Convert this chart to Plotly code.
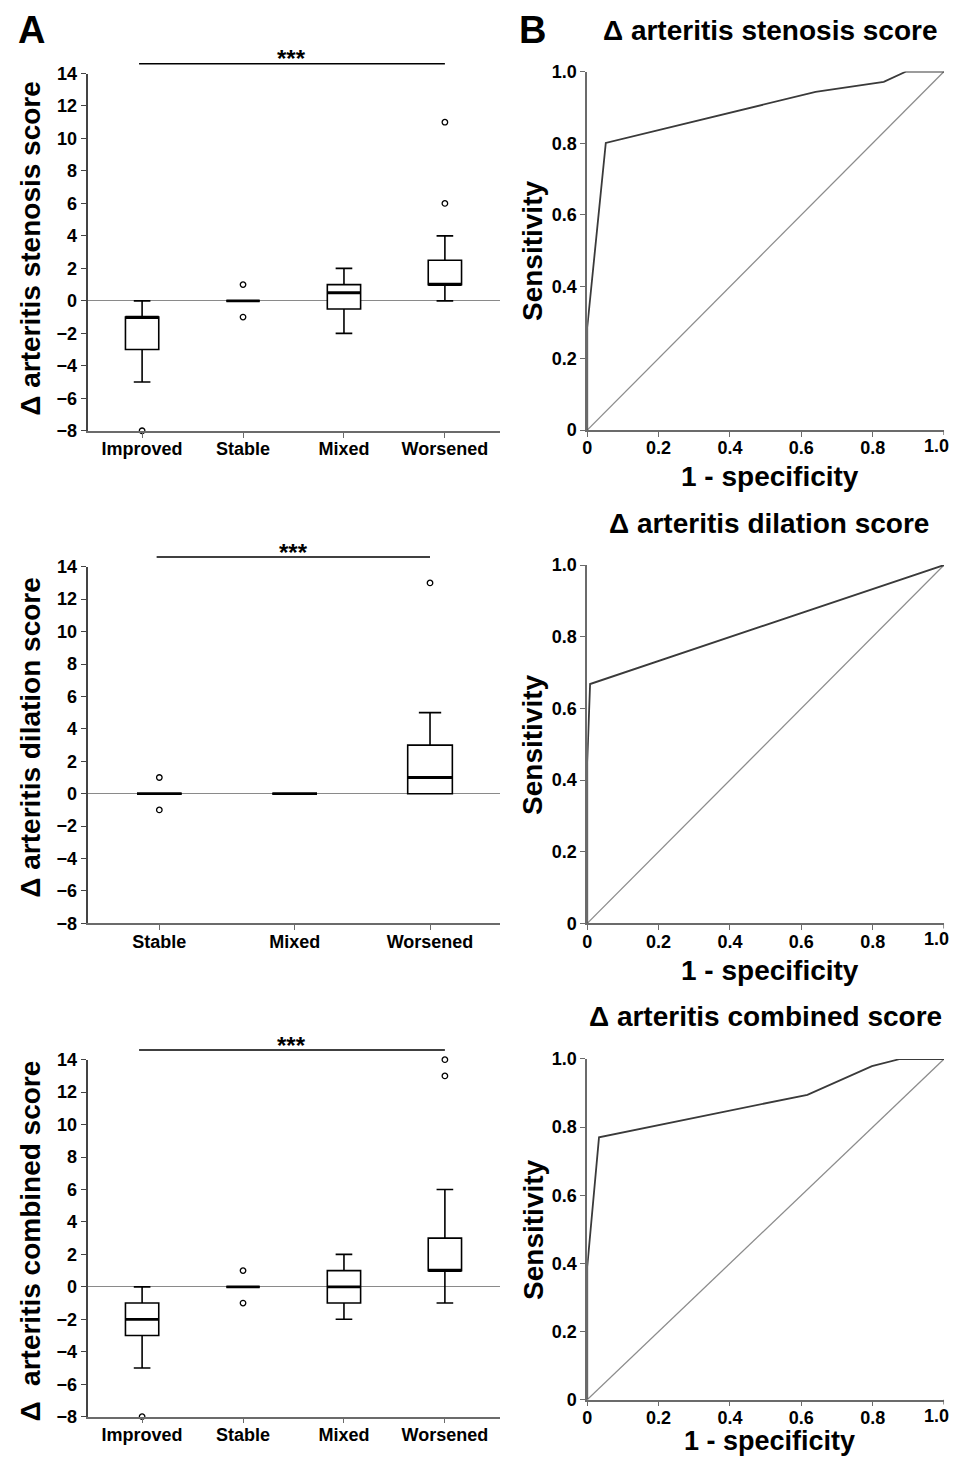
import plotly.graph_objects as go

FONT = "Liberation Sans, Arial, Helvetica, sans-serif"
PAGE_W, PAGE_H = 959, 1475
BODY_M = 8  # default page body margin
W, H = PAGE_W - 2 * BODY_M, PAGE_H - 2 * BODY_M
# measured vertical mapping of the rendered page to the photograph
V_OFF, V_SCALE = 9.3, 0.9864

# ---------------- data ----------------
groups4 = ["Improved", "Stable", "Mixed", "Worsened"]
groups3 = ["Stable", "Mixed", "Worsened"]

# stenosis score
sten_q1 = [-3, 0, -0.5, 1]
sten_med = [-1, 0, 0.5, 1]
sten_q3 = [-1, 0, 1, 2.5]
sten_lo = [-5, 0, -2, 0]
sten_hi = [0, 0, 2, 4]
sten_out_x = ["Improved", "Stable", "Stable", "Worsened", "Worsened"]
sten_out_y = [-8, 1, -1, 6, 11]

# dilation score
dil_q1 = [0, 0, 0]
dil_med = [0, 0, 1]
dil_q3 = [0, 0, 3]
dil_lo = [0, 0, 0]
dil_hi = [0, 0, 5]
dil_out_x = ["Stable", "Stable", "Worsened"]
dil_out_y = [1, -1, 13]

# combined score
comb_q1 = [-3, 0, -1, 1]
comb_med = [-2, 0, 0, 1]
comb_q3 = [-1, 0, 1, 3]
comb_lo = [-5, 0, -2, -1]
comb_hi = [0, 0, 2, 6]
comb_out_x = ["Improved", "Stable", "Stable", "Worsened", "Worsened"]
comb_out_y = [-8, 1, -1, 13, 14]

box_ticks = [-8, -6, -4, -2, 0, 2, 4, 6, 8, 10, 12, 14]

# ROC curves (1 - specificity, sensitivity)
roc_sten_x = [0, 0, 0.052, 0.64, 0.831, 0.894, 1.0]
roc_sten_y = [0, 0.286, 0.801, 0.943, 0.971, 1.0, 1.0]
roc_dil_x = [0, 0, 0.008, 1.0]
roc_dil_y = [0, 0.45, 0.668, 1.0]
roc_comb_x = [0, 0, 0.033, 0.617, 0.798, 0.877, 1.0]
roc_comb_y = [0, 0.39, 0.770, 0.895, 0.979, 1.0, 1.0]
ref_x = [0, 1]
ref_y = [0, 1]
roc_ticks = [0, 0.2, 0.4, 0.6, 0.8, 1.0]
roc_ticktext = ["0", "0.2", "0.4", "0.6", "0.8", "1.0"]

# ---------------- layout helpers ----------------
def px_x(p):
    return (p - BODY_M) / W

def px_y(p):
    fy = (p - V_OFF) / V_SCALE - BODY_M
    return 1 - fy / H

def axnames(idx):
    s = "" if idx == 1 else str(idx)
    return "x" + s, "y" + s, "xaxis" + s, "yaxis" + s

fig = go.Figure()

BOX_W = 0.33
AXCOL = "#6b6b6b"
SIG_Y = 1.027  # significance bar height, in y-domain units
TICKFONT = dict(family=FONT, size=18, color="black", weight="bold")

def add_box_panel(idx, cats, q1, med, q3, lo, hi, ox, oy, ydom_px, xrange_, sig):
    xa, ya, xk, yk = axnames(idx)
    pos = list(range(len(cats)))
    fig.add_trace(go.Box(
        x=pos, q1=q1, median=med, q3=q3, lowerfence=lo, upperfence=hi,
        width=BOX_W, whiskerwidth=0.5, fillcolor="white",
        line=dict(color="black", width=1.6), boxpoints=False,
        xaxis=xa, yaxis=ya, showlegend=False, hoverinfo="skip"))
    # thicker median lines
    mx, my = [], []
    for p, m in zip(pos, med):
        mx += [p - BOX_W / 2, p + BOX_W / 2, None]
        my += [m, m, None]
    fig.add_trace(go.Scatter(x=mx, y=my, mode="lines",
                             line=dict(color="black", width=2.8),
                             xaxis=xa, yaxis=ya, showlegend=False, hoverinfo="skip"))
    # outliers
    oxp = [cats.index(c) for c in ox]
    fig.add_trace(go.Scatter(x=oxp, y=oy, mode="markers",
                             marker=dict(symbol="circle-open", size=5.5, color="black",
                                         line=dict(width=1.3)),
                             cliponaxis=False,
                             xaxis=xa, yaxis=ya, showlegend=False, hoverinfo="skip"))
    x0, x1 = 83, 498
    fig.layout[xk] = dict(
        domain=[px_x(x0), px_x(x1)], range=xrange_, anchor=ya,
        tickvals=pos, ticktext=cats, ticks="outside", ticklen=5, tickcolor=AXCOL,
        showline=True, linecolor=AXCOL, linewidth=1.5, showgrid=False, zeroline=False,
        ticklabelstandoff=-4, tickfont=TICKFONT)
    fig.layout[yk] = dict(
        domain=[px_y(ydom_px[0]), px_y(ydom_px[1])], range=[-8, 14], anchor=xa,
        tickvals=box_ticks, ticks="outside", ticklen=5, tickcolor="#444",
        showline=True, linecolor="#444", linewidth=2, showgrid=False,
        zeroline=True, zerolinecolor="#8a8a8a", zerolinewidth=1.2,
        tickfont=TICKFONT)
    # significance bar
    sx0, sx1 = sig
    fig.add_shape(type="line", xref=xa, yref=ya + " domain",
                  x0=sx0, x1=sx1, y0=SIG_Y, y1=SIG_Y,
                  line=dict(color="black", width=1.5))
    fig.add_annotation(x=(sx0 + sx1) / 2, y=SIG_Y, xref=xa, yref=ya + " domain",
                       text="***", showarrow=False, yanchor="middle", yshift=5,
                       font=dict(family=FONT, size=24, color="black", weight="bold"))


def add_roc_panel(idx, rx, ry, ydom_px):
    xa, ya, xk, yk = axnames(idx)
    fig.add_trace(go.Scatter(x=ref_x, y=ref_y, mode="lines",
                             line=dict(color="#8c8c8c", width=1.3),
                             xaxis=xa, yaxis=ya, showlegend=False, hoverinfo="skip"))
    fig.add_trace(go.Scatter(x=rx, y=ry, mode="lines",
                             line=dict(color="#3a3a3a", width=1.8), cliponaxis=False,
                             xaxis=xa, yaxis=ya, showlegend=False, hoverinfo="skip"))
    # the last x tick label sits at the page edge: drawn as a text note
    fig.layout[xk] = dict(
        domain=[px_x(585.3), px_x(944)], range=[0, 1], anchor=ya,
        tickvals=roc_ticks[:-1], ticktext=roc_ticktext[:-1], ticks="outside", ticklen=5,
        tickcolor=AXCOL, showline=True, linecolor=AXCOL, linewidth=1.5,
        showgrid=False, zeroline=False, ticklabelstandoff=-4, tickfont=TICKFONT)
    fig.add_shape(type="line", xref=xa, yref=ya + " domain",
                  x0=roc_ticks[-1], x1=roc_ticks[-1], y0=0, y1=-0.014,
                  line=dict(color=AXCOL, width=1.5))
    fig.add_annotation(x=roc_ticks[-1], y=0, xref=xa, yref=ya + " domain",
                       text=roc_ticktext[-1], showarrow=False, xanchor="right",
                       xshift=6, yanchor="top", yshift=-5, borderpad=0,
                       font=TICKFONT)
    fig.layout[yk] = dict(
        domain=[px_y(ydom_px[0]), px_y(ydom_px[1])], range=[0, 1], anchor=xa,
        tickvals=roc_ticks, ticktext=roc_ticktext, ticks="outside", ticklen=5,
        tickcolor=AXCOL, showline=True, linecolor=AXCOL, linewidth=1.5,
        showgrid=False, zeroline=False, tickfont=TICKFONT)


xr4 = [-0.54, 3.55]
xr3 = [-0.53, 2.52]

add_box_panel(1, groups4, sten_q1, sten_med, sten_q3, sten_lo, sten_hi,
              sten_out_x, sten_out_y, (430, 72.7), xr4, (-0.03, 3.0))
add_roc_panel(2, roc_sten_x, roc_sten_y, (429.3, 70.7))
add_box_panel(3, groups3, dil_q1, dil_med, dil_q3, dil_lo, dil_hi,
              dil_out_x, dil_out_y, (922.7, 566), xr3, (-0.02, 2.0))
add_roc_panel(4, roc_dil_x, roc_dil_y, (922.7, 564.3))
add_box_panel(5, groups4, comb_q1, comb_med, comb_q3, comb_lo, comb_hi,
              comb_out_x, comb_out_y, (1416, 1059), xr4, (-0.03, 3.0))
add_roc_panel(6, roc_comb_x, roc_comb_y, (1399, 1058.3))

# ---------------- text ----------------
def txt(text, x, y, size, angle=0, yanchor="middle"):
    fig.add_annotation(x=px_x(x), y=px_y(y), xref="paper", yref="paper", text=text,
                       showarrow=False, textangle=angle, xanchor="center", yanchor=yanchor,
                       borderpad=0,
                       font=dict(family=FONT, size=size, color="black", weight="bold"))

txt("A", 27, 29, 38)
txt("B", 530, 29, 38)

txt("Δ arteritis stenosis score", 26, 247, 28, -90)
txt("Δ arteritis dilation score", 26, 737, 28, -90)
txt("Δ\u00a0 arteritis combined score", 26, 1240, 28, -90)

for yc in (250, 744, 1229):
    txt("Sensitivity", 531, yc, 28, -90)
for yt in (459, 953):
    txt("1 - specificity", 769, yt, 28, yanchor="top")
# bottom row: keep the title inside the figure
fig.add_annotation(x=px_x(769), y=0, xref="paper", yref="paper", text="1 - specificity",
                   showarrow=False, xanchor="center", yanchor="bottom", borderpad=0,
                   font=dict(family=FONT, size=27, color="black", weight="bold"))

txt("Δ arteritis stenosis score", 770, 30, 28)
txt("Δ arteritis dilation score", 768, 523, 28)
txt("Δ arteritis combined score", 765, 1016, 28)

fig.update_layout(width=W, height=H, margin=dict(l=0, r=0, t=0, b=0),
                  plot_bgcolor="white", paper_bgcolor="white",
                  font=dict(family=FONT, color="black"))

fig.write_html("out.html", config={"displayModeBar": False})
